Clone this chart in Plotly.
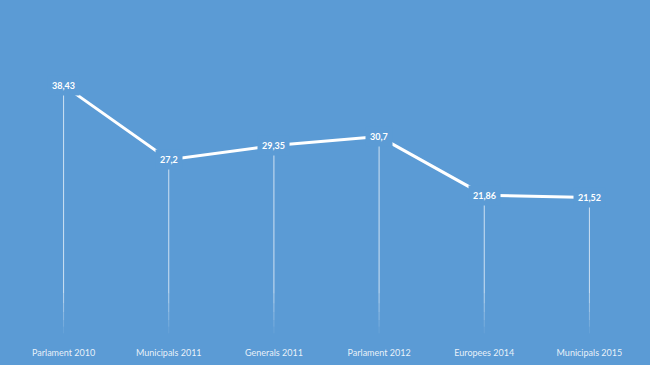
import plotly.graph_objects as go

categories = ["Parlament 2010", "Municipals 2011", "Generals 2011",
              "Parlament 2012", "Europees 2014", "Municipals 2015"]
values = [38.43, 27.2, 29.35, 30.7, 21.86, 21.52]
value_labels = [f"{v}".replace(".", ",") for v in values]

BG = "rgb(91,155,213)"
x = list(range(len(categories)))

fig = go.Figure()

# drop lines (solid upper part, fading lower part)
fade_start = 7.0
fade_steps = [(7.0, 5.5, 0.55), (5.5, 4.2, 0.42), (4.2, 3.0, 0.3), (3.0, 2.0, 0.18), (2.0, 1.0, 0.08)]
for xi, v in zip(x, values):
    fig.add_trace(go.Scatter(x=[xi, xi], y=[v, fade_start], mode="lines",
                             line=dict(color="rgba(255,255,255,0.7)", width=1),
                             hoverinfo="skip", showlegend=False))
    for y0, y1, op in fade_steps:
        fig.add_trace(go.Scatter(x=[xi, xi], y=[y0, y1], mode="lines",
                                 line=dict(color=f"rgba(255,255,255,{op})", width=1),
                                 hoverinfo="skip", showlegend=False))

# main line
fig.add_trace(go.Scatter(x=x, y=values, mode="lines",
                         line=dict(color="white", width=3),
                         hoverinfo="skip", showlegend=False))

for xi, v, lab in zip(x, values, value_labels):
    fig.add_annotation(x=xi, y=v, xref="x", yref="y", text=f"<b>{lab}</b>",
                       showarrow=False, bgcolor=BG, borderpad=4,
                       font=dict(family="Lato, Open Sans, sans-serif", size=9, color="white"))

fig.update_layout(
    width=650, height=365,
    margin=dict(l=11, r=8, t=75, b=25),
    paper_bgcolor=BG, plot_bgcolor=BG,
    font=dict(family="Lato, Open Sans, sans-serif", size=9, color="rgba(255,255,255,0.9)"),
    xaxis=dict(range=[-0.5, len(categories) - 0.5], tickmode="array", tickvals=x,
               ticktext=categories, showgrid=False, zeroline=False, showline=False,
               ticks="", ticklabelstandoff=6,
               tickfont=dict(size=9, color="rgba(255,255,255,0.88)")),
    yaxis=dict(range=[0, 40], visible=False, showgrid=False, zeroline=False),
)

fig.write_html("out.html", config={"displayModeBar": False},
               post_script="document.body.style.margin='0';document.body.style.overflow='hidden';")
